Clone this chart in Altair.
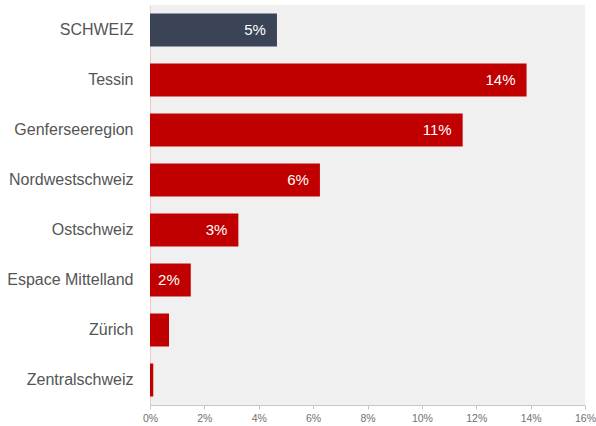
import altair as alt
import pandas as pd

regions = ["SCHWEIZ", "Tessin", "Genferseeregion", "Nordwestschweiz",
           "Ostschweiz", "Espace Mittelland", "Zürich", "Zentralschweiz"]
values = [4.67, 13.85, 11.5, 6.25, 3.25, 1.5, 0.7, 0.12]
labels = ["5%", "14%", "11%", "6%", "3%", "2%", "", ""]
groups = ["ch", "reg", "reg", "reg", "reg", "reg", "reg", "reg"]

df = pd.DataFrame({"region": regions, "value": values, "label": labels, "group": groups})

y_enc = alt.Y("region:N", sort=regions, title=None,
              scale=alt.Scale(paddingInner=0.34, paddingOuter=0.17),
              axis=alt.Axis(labelFont="Liberation Sans", labelFontSize=16,
                            labelColor="#555555", labelPadding=17, ticks=False,
                            domainColor="#f4c8c8", domainWidth=1))

bars = alt.Chart(df).mark_bar().encode(
    x=alt.X("value:Q", title=None,
            scale=alt.Scale(domain=[0, 16], nice=False),
            axis=alt.Axis(values=list(range(0, 17, 2)), labelExpr="datum.value + '%'",
                          grid=False, labelFont="Liberation Sans", labelFontSize=10.5,
                          labelColor="#707070", domainColor="#c8c8c8", tickColor="#c8c8c8",
                          tickSize=4, labelPadding=4, labelFlush=False)),
    y=y_enc,
    color=alt.Color("group:N", scale=alt.Scale(domain=["ch", "reg"], range=["#3a4456", "#c00000"]),
                    legend=None),
)

text = alt.Chart(df).mark_text(align="right", dx=-11, color="white",
                               font="Liberation Sans", fontSize=15).encode(
    x="value:Q",
    y=alt.Y("region:N", sort=regions),
    text="label:N",
)

chart = (bars + text).properties(
    width=435, height=400,
    autosize=alt.AutoSizeParams(type="none"),
    padding={"left": 150, "top": 5, "right": 11, "bottom": 21},
    background="white",
).configure_view(fill="#f0f0f0", stroke=None)

chart.save("out.html", embed_options={"renderer": "svg", "actions": False})
